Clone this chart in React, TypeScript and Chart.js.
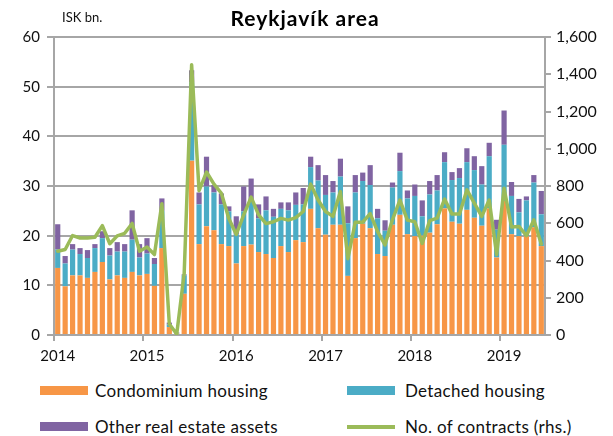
import React, { useEffect, useRef } from "react";
import { Chart, registerables } from "chart.js";

Chart.register(...registerables);

const months: string[] = [];
for (let y = 2014; y <= 2019; y++) {
  for (let m = 1; m <= 12; m++) {
    if (y === 2019 && m > 6) break;
    months.push(`${y}-${String(m).padStart(2, "0")}`);
  }
}

const condominium = [
  13.5, 9.8, 12.0, 12.0, 11.5, 12.7, 14.7, 11.2, 12.0, 11.5, 12.7, 12.0,
  12.3, 9.9, 17.5, 1.6, 0.3, 8.3, 35.1, 18.3, 21.9, 21.1, 18.3, 17.9,
  14.4, 17.9, 18.2, 16.7, 16.3, 15.5, 17.9, 16.7, 19.1, 18.7, 25.4, 21.5,
  20.2, 22.2, 22.2, 11.9, 19.5, 22.4, 21.5, 16.3, 15.9, 22.2, 24.2, 20.3,
  19.9, 20.0, 20.6, 22.3, 25.5, 22.8, 22.4, 25.2, 23.6, 22.0, 25.5, 15.6,
  27.0, 20.3, 19.9, 19.9, 21.7, 17.9,
];
const detached = [
  3.7, 4.6, 5.2, 4.3, 4.0, 4.8, 4.8, 4.8, 4.8, 5.3, 6.5, 3.6,
  4.1, 4.4, 7.5, 0.5, 0.1, 3.7, 15.8, 8.0, 8.0, 7.6, 8.0, 7.0,
  5.9, 7.0, 8.6, 6.8, 8.8, 8.3, 7.5, 8.4, 7.1, 7.6, 8.4, 9.6,
  8.0, 6.5, 9.7, 10.6, 9.2, 8.6, 8.7, 7.2, 5.1, 7.5, 8.8, 7.2,
  8.1, 3.9, 7.7, 6.8, 9.3, 8.4, 9.2, 9.6, 9.6, 8.3, 10.5, 5.6,
  11.3, 7.7, 4.8, 7.2, 9.0, 6.4,
];
const otherAssets = [
  5.1, 1.5, 1.1, 1.2, 1.6, 0.8, 1.4, 1.5, 1.9, 1.5, 5.9, 2.7,
  3.1, 1.2, 2.5, 0.4, 0.1, 0.2, 2.4, 2.4, 6.0, 1.5, 2.2, 1.0,
  3.6, 5.0, 4.7, 2.8, 2.8, 1.6, 1.3, 1.6, 2.5, 3.3, 2.1, 3.1,
  4.0, 2.3, 3.6, 3.4, 3.5, 1.7, 4.0, 1.9, 2.1, 1.0, 3.7, 1.6,
  2.3, 3.2, 2.7, 3.1, 2.0, 1.6, 2.0, 2.8, 2.8, 3.7, 2.7, 2.0,
  6.9, 2.8, 2.7, 0.8, 1.5, 4.7,
];
const contracts = [
  450, 459, 534, 521, 521, 525, 587, 490, 532, 546, 599, 450,
  472, 432, 705, 59, 5, 330, 1451, 775, 875, 810, 761, 625,
  540, 645, 740, 645, 598, 608, 626, 617, 630, 663, 810, 725,
  663, 637, 770, 410, 606, 606, 652, 555, 484, 620, 724, 617,
  608, 492, 614, 628, 730, 649, 649, 779, 708, 637, 725, 432,
  788, 580, 583, 533, 618, 488,
];

const FONT = "Lato, 'Open Sans', sans-serif";
const GRID = "#a6a6a6";

export default function App() {
  const canvasRef = useRef<HTMLCanvasElement | null>(null);

  useEffect(() => {
    document.body.style.margin = "0";
    const canvas = canvasRef.current;
    if (!canvas) return;
    const chart = new Chart(canvas, {
      type: "bar",
      data: {
        labels: months,
        datasets: [
          {
            type: "line",
            label: "No. of contracts (rhs.)",
            data: contracts,
            yAxisID: "y1",
            borderColor: "#9BBB59",
            backgroundColor: "#9BBB59",
            borderWidth: 3.5,
            pointRadius: 0,
            tension: 0,
            borderJoinStyle: "round",
            borderCapStyle: "round",
            order: 0,
          } as any,
          {
            label: "Condominium housing",
            data: condominium,
            backgroundColor: "#F79646",
            yAxisID: "y",
            stack: "s",
            order: 1,
          },
          {
            label: "Detached housing",
            data: detached,
            backgroundColor: "#4BACC6",
            yAxisID: "y",
            stack: "s",
            order: 1,
          },
          {
            label: "Other real estate assets",
            data: otherAssets,
            backgroundColor: "#8064A2",
            yAxisID: "y",
            stack: "s",
            order: 1,
          },
        ],
      },
      options: {
        animation: false,
        responsive: false,
        maintainAspectRatio: false,
        layout: { padding: { top: 37, left: 0, right: 0, bottom: 0 } },
        datasets: { bar: { barPercentage: 0.7, categoryPercentage: 1.0 } },
        plugins: {
          legend: { display: false },
          tooltip: { enabled: false },
          title: { display: false },
        },
        scales: {
          x: {
            type: "category",
            stacked: true,
            offset: true,
            afterFit: (s: any) => {
              s.height = 37;
            },
            grid: {
              offset: true,
              drawOnChartArea: false,
              tickLength: 6,
              lineWidth: 2,
              color: (ctx: any) => (ctx.index % 12 === 0 ? GRID : "rgba(0,0,0,0)"),
            },
            border: { display: false },
            ticks: {
              autoSkip: false,
              maxRotation: 0,
              padding: 6,
              color: "#111",
              font: { family: FONT, size: 15 },
              callback: (_v: any, i: number) => (i % 12 === 0 ? String(2014 + i / 12) : ""),
            },
          },
          y: {
            position: "left",
            stacked: true,
            min: 0,
            max: 60,
            afterFit: (s: any) => {
              s.width = 54;
            },
            grid: { color: GRID, lineWidth: 2, tickLength: 7 },
            border: { display: true, color: GRID, width: 2 },
            ticks: {
              stepSize: 10,
              padding: 7,
              color: "#111",
              font: { family: FONT, size: 15 },
            },
          },
          y1: {
            position: "right",
            stacked: false,
            min: 0,
            max: 1600,
            afterFit: (s: any) => {
              s.width = 68;
            },
            grid: { drawOnChartArea: false, color: GRID, lineWidth: 2, tickLength: 6 },
            border: { display: true, color: GRID, width: 2 },
            ticks: {
              stepSize: 200,
              padding: 5,
              color: "#111",
              font: { family: FONT, size: 16 },
            },
          },
        },
      } as any,
    });
    return () => chart.destroy();
  }, []);

  const legendText: React.CSSProperties = {
    position: "absolute",
    fontFamily: FONT,
    fontSize: 17,
    letterSpacing: 0.3,
    color: "#111",
    lineHeight: "20px",
    whiteSpace: "nowrap",
  };
  const sw = (left: number, top: number, color: string, h: number): React.CSSProperties => ({
    position: "absolute",
    left,
    top,
    width: 48,
    height: h,
    background: color,
  });

  return (
    <div style={{ position: "relative", width: 613, height: 436, background: "#fff", overflow: "hidden" }}>
      <canvas ref={canvasRef} width={613} height={372} style={{ position: "absolute", left: 0, top: 0 }} />
      <div
        style={{
          position: "absolute",
          left: 175,
          top: 5,
          width: 260,
          textAlign: "center",
          fontFamily: FONT,
          fontWeight: 700,
          fontSize: 21,
          letterSpacing: 1,
          color: "#000",
        }}
      >
        Reykjavík area
      </div>
      <div style={{ position: "absolute", left: 62, top: 9, fontFamily: FONT, fontSize: 13, color: "#111" }}>
        ISK bn.
      </div>
      <div style={sw(40, 386, "#F79646", 9)} />
      <div style={{ ...legendText, left: 95, top: 381 }}>Condominium housing</div>
      <div style={sw(347, 386, "#4BACC6", 9)} />
      <div style={{ ...legendText, left: 405, top: 381 }}>Detached housing</div>
      <div style={sw(40, 422, "#8064A2", 9)} />
      <div style={{ ...legendText, left: 95, top: 417 }}>Other real estate assets</div>
      <div style={sw(347, 425, "#9BBB59", 4)} />
      <div style={{ ...legendText, left: 405, top: 417 }}>No. of contracts (rhs.)</div>
    </div>
  );
}
